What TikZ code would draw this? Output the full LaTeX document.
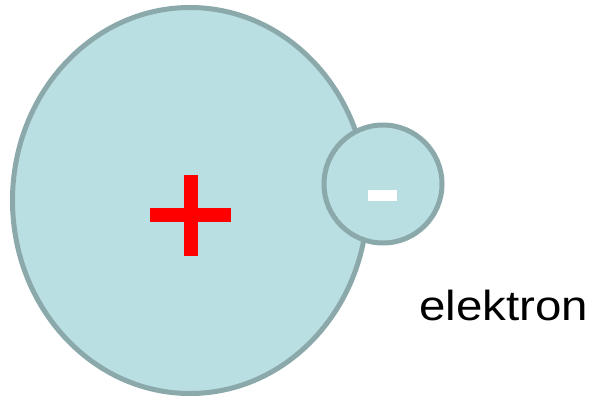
\documentclass[tikz,border=0pt]{standalone}
\usepackage{fontspec}
\setmainfont{Liberation Sans}
\definecolor{shellfill}{HTML}{B9DFE3}
\definecolor{shellline}{HTML}{8BA8AA}
\begin{document}
\begin{tikzpicture}[x=1pt,y=-1pt,
  particle/.style={fill=shellfill,draw=shellline,line width=5pt},
  label/.style={font=\fontsize{42}{42}\selectfont,inner sep=0pt,anchor=base,xscale=1.13}]
  \useasboundingbox (0,0) rectangle (596,401);
  % nucleus
  \draw[particle] (190,200.5) ellipse [x radius=177.5, y radius=193];
  \fill[red] (184,175) rectangle (198.3,256);
  \fill[red] (150,208.3) rectangle (231.3,222.3);
  % electron
  \draw[particle] (383,184) circle [radius=59];
  \fill[white] (368,190) rectangle (397,201);
  \node[label] (name) at (503.5,320) {elektron};
\end{tikzpicture}
\end{document}
